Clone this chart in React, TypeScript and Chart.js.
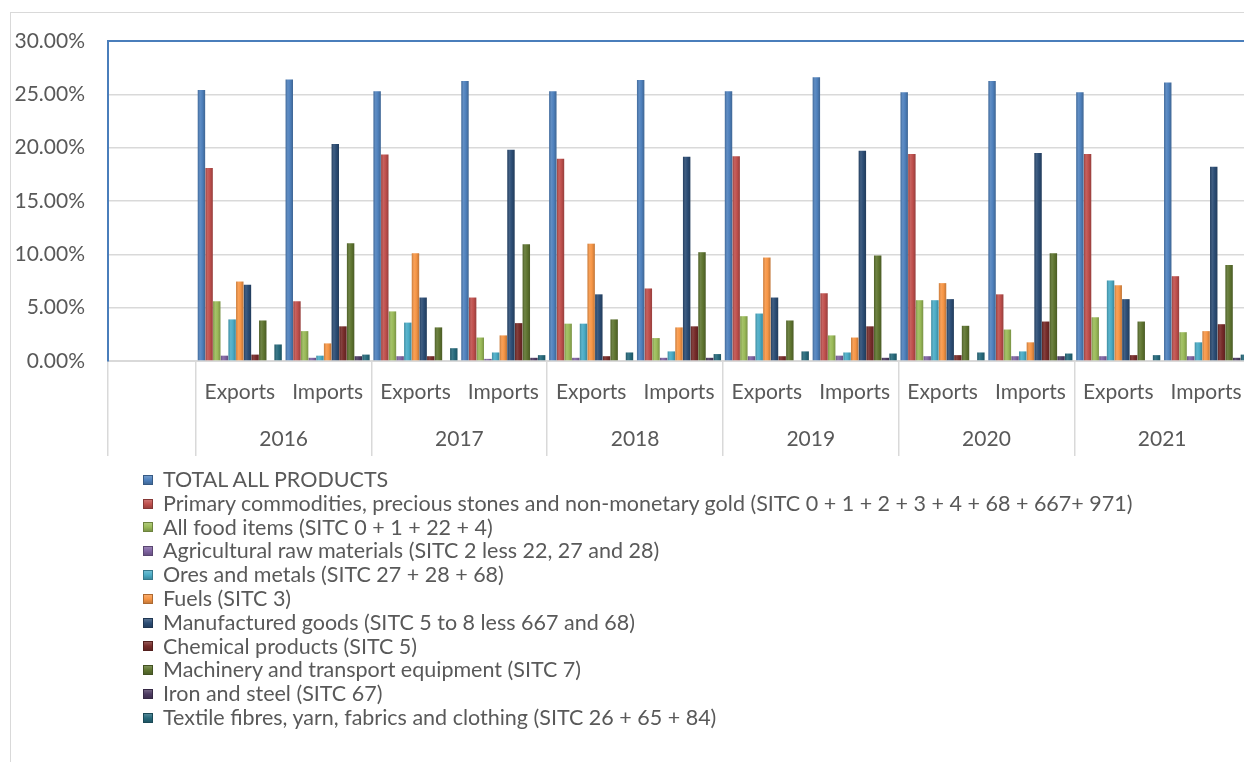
import React, { useEffect, useRef } from 'react';
import { Chart, registerables } from 'chart.js';

Chart.register(...registerables);

// ---------- data ----------
const categories = ['', 'Exports', 'Imports', 'Exports', 'Imports', 'Exports', 'Imports', 'Exports', 'Imports', 'Exports', 'Imports', 'Exports', 'Imports'];
const years = ['2016', '2017', '2018', '2019', '2020', '2021'];

const seriesNames = [
  'TOTAL ALL PRODUCTS',
  'Primary commodities, precious stones and non-monetary gold (SITC 0 + 1 + 2 + 3 + 4 + 68 + 667+ 971)',
  'All food items (SITC 0 + 1 + 22 + 4)',
  'Agricultural raw materials (SITC 2 less 22, 27 and 28)',
  'Ores and metals (SITC 27 + 28 + 68)',
  'Fuels (SITC 3)',
  'Manufactured goods (SITC 5 to 8 less 667 and 68)',
  'Chemical products (SITC 5)',
  'Machinery and transport equipment (SITC 7)',
  'Iron and steel (SITC 67)',
  'Textile fibres, yarn, fabrics and clothing (SITC 26 + 65 + 84)',
];

const seriesColors = ['#4F81BD', '#C0504D', '#9BBB59', '#8064A2', '#4BACC6', '#F79646', '#2C4D75', '#772C2A', '#5F7530', '#4D3B62', '#276A7C'];

const totalAll = [null, 25.4, 26.4, 25.3, 26.25, 25.3, 26.35, 25.3, 26.6, 25.2, 26.25, 25.2, 26.1];
const primaryCommodities = [null, 18.1, 5.6, 19.35, 5.95, 18.95, 6.8, 19.2, 6.35, 19.4, 6.25, 19.4, 7.95];
const allFood = [null, 5.6, 2.8, 4.65, 2.2, 3.5, 2.15, 4.2, 2.4, 5.7, 2.95, 4.1, 2.7];
const agriRaw = [null, 0.5, 0.3, 0.45, 0.2, 0.3, 0.3, 0.45, 0.5, 0.45, 0.45, 0.45, 0.45];
const oresMetals = [null, 3.9, 0.5, 3.6, 0.8, 3.5, 0.9, 4.45, 0.8, 5.7, 0.9, 7.55, 1.75];
const fuels = [null, 7.45, 1.65, 10.1, 2.4, 11.0, 3.15, 9.7, 2.2, 7.3, 1.75, 7.1, 2.8];
const manufactured = [null, 7.15, 20.35, 5.95, 19.8, 6.25, 19.15, 5.95, 19.7, 5.8, 19.5, 5.8, 18.2];
const chemical = [null, 0.6, 3.25, 0.45, 3.55, 0.45, 3.25, 0.45, 3.25, 0.55, 3.7, 0.55, 3.45];
const machinery = [null, 3.8, 11.05, 3.15, 10.95, 3.9, 10.2, 3.8, 9.9, 3.3, 10.1, 3.7, 9.0];
const ironSteel = [null, 0, 0.45, 0, 0.3, 0, 0.3, 0, 0.3, 0, 0.45, 0, 0.3];
const textile = [null, 1.55, 0.6, 1.2, 0.55, 0.8, 0.65, 0.9, 0.7, 0.8, 0.7, 0.55, 0.6];

const seriesValues = [totalAll, primaryCommodities, allFood, agriRaw, oresMetals, fuels, manufactured, chemical, machinery, ironSteel, textile];

const yMin = 0;
const yMax = 30;
const yStep = 5;

// ---------- styling helpers ----------
const CAT_PCT = 0.96;
const BAR_PCT = 0.97;
const FONT = 'Lato';
const TEXT = '#595959';
const GRID = '#d9d9d9';
const FRAME_BLUE = '#4a7ebb';

function shade(hex: string, f: number): string {
  const n = parseInt(hex.slice(1), 16);
  const ch = (v: number) => {
    const r = f >= 1 ? v + (255 - v) * (f - 1) : v * f;
    return Math.max(0, Math.min(255, Math.round(r)));
  };
  const r = ch((n >> 16) & 255), g = ch((n >> 8) & 255), b = ch(n & 255);
  return `rgb(${r},${g},${b})`;
}

function barFill(color: string) {
  return (ctx: any) => {
    const chart = ctx.chart;
    const xs = chart.scales && chart.scales.x;
    if (ctx.type !== 'data' || !xs || !isFinite(xs.left) || xs.width <= 0) return color;
    const cw = xs.width / categories.length;
    const gw = cw * CAT_PCT;
    const slot = gw / seriesNames.length;
    const bw = slot * BAR_PCT;
    const cx = xs.getPixelForValue(ctx.dataIndex) - gw / 2 + (ctx.datasetIndex + 0.5) * slot;
    const g = chart.ctx.createLinearGradient(cx - bw / 2, 0, cx + bw / 2, 0);
    g.addColorStop(0, shade(color, 0.82));
    g.addColorStop(0.3, shade(color, 1.1));
    g.addColorStop(0.6, color);
    g.addColorStop(1, shade(color, 0.78));
    return g;
  };
}

const separatorIdx = [0, 1, 3, 5, 7, 9, 11];

export default function App() {
  const ref = useRef<HTMLCanvasElement | null>(null);

  useEffect(() => {
    if (!ref.current) return;
    const chart = new Chart(ref.current, {
      type: 'bar',
      data: {
        labels: categories,
        datasets: seriesNames.map((name, i) => ({
          label: name,
          data: seriesValues[i],
          backgroundColor: barFill(seriesColors[i]),
          borderWidth: 0,
          categoryPercentage: CAT_PCT,
          barPercentage: BAR_PCT,
        })),
      },
      options: {
        responsive: false,
        animation: false,
        layout: { padding: { left: 0, right: 10, top: 41, bottom: 14 } },
        plugins: { legend: { display: false }, tooltip: { enabled: false } },
        scales: {
          x: {
            type: 'category',
            position: 'bottom',
            weight: 0,
            offset: true,
            grid: {
              offset: true,
              drawOnChartArea: false,
              drawTicks: true,
              tickLength: 95,
              lineWidth: 1.5,
              color: (c: any) => (c.index === undefined || separatorIdx.includes(c.index) ? GRID : 'rgba(0,0,0,0)'),
            },
            border: { display: true, color: GRID, width: 2 },
            ticks: {
              autoSkip: false,
              maxRotation: 0,
              minRotation: 0,
              padding: -76,
              color: TEXT,
              font: { family: FONT, size: 21 },
            },
            afterFit: (s: any) => { s.height = 48; },
          },
          x2: {
            type: 'linear',
            position: 'bottom',
            weight: 1,
            offset: false,
            min: -0.5,
            max: categories.length - 0.5,
            grid: { display: false, drawTicks: false, offset: false },
            border: { display: false },
            afterBuildTicks: (s: any) => { s.ticks = years.map((_, i) => ({ value: 1.5 + 2 * i })); },
            ticks: {
              autoSkip: false,
              maxRotation: 0,
              minRotation: 0,
              padding: 18,
              color: TEXT,
              font: { family: FONT, size: 21 },
              callback: (_v: any, i: number) => years[i],
            },
            afterFit: (s: any) => { s.height = 47; },
          },
          y: {
            min: yMin,
            max: yMax,
            ticks: {
              stepSize: yStep,
              padding: 23,
              color: TEXT,
              font: { family: FONT, size: 21 },
              callback: (v: any) => Number(v).toFixed(2) + '%',
            },
            grid: {
              drawTicks: false,
              lineWidth: (c: any) => (c.tick && c.tick.value === yMax ? 2 : 1.5),
              color: (c: any) => (c.tick && c.tick.value === yMax ? FRAME_BLUE : GRID),
            },
            border: { display: true, color: FRAME_BLUE, width: 2 },
            afterFit: (s: any) => { s.width = 108; },
          },
        },
      },
    } as any);
    return () => chart.destroy();
  }, []);

  return (
    <div style={{ position: 'fixed', left: 0, top: 0, width: 1244, height: 762, overflow: 'hidden', background: '#fff' }}>
      <div style={{ position: 'absolute', left: 10, top: 12, width: 1400, height: 900, borderLeft: `1px solid ${GRID}`, borderTop: `1px solid ${GRID}` }} />
      <canvas ref={ref} width={1260} height={470} style={{ position: 'absolute', left: 0, top: 0, display: 'block' }} />
      <div style={{ position: 'absolute', left: 143, top: 468, fontFamily: FONT, fontSize: 21.5, color: TEXT, whiteSpace: 'nowrap' }}>
        {seriesNames.map((name, i) => (
          <div key={name} style={{ height: 23.8, lineHeight: '23.8px', display: 'flex', alignItems: 'center' }}>
            <span style={{
              display: 'inline-block', width: 10, height: 10, marginRight: 10, flex: '0 0 auto',
              background: `linear-gradient(180deg, ${shade(seriesColors[i], 1.25)} 0%, ${seriesColors[i]} 50%, ${shade(seriesColors[i], 0.75)} 100%)`,
              boxShadow: `inset 0 0 0 1px ${shade(seriesColors[i], 0.7)}`,
            }} />
            <span>{name}</span>
          </div>
        ))}
      </div>
    </div>
  );
}
